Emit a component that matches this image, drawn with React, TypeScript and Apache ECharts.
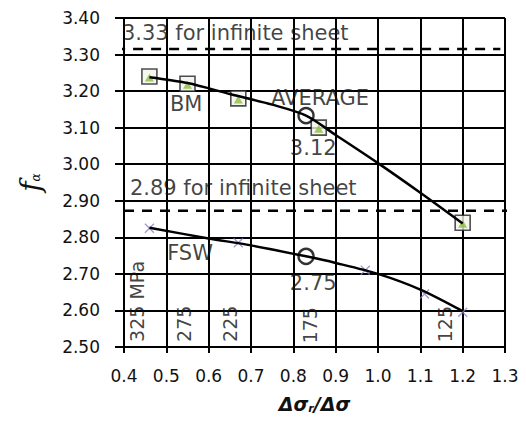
import React, { useEffect, useRef } from "react";
import * as echarts from "echarts";

// Base metal (BM) measured points
const bmX = [0.46, 0.55, 0.67, 0.86, 1.2];
const bmY = [3.24, 3.22, 3.18, 3.10, 2.84];
// FSW measured points
const fswX = [0.46, 0.67, 0.97, 1.11, 1.2];
const fswY = [2.825, 2.785, 2.71, 2.645, 2.595];
// Average points (open circles)
const avgX = [0.83, 0.83];
const avgY = [3.133, 2.748];
// Trend curves
const bmTrendX = [0.46, 0.55, 0.65, 0.75, 0.83, 0.9, 1.0, 1.1, 1.2];
const bmTrendY = [3.238, 3.222, 3.192, 3.163, 3.133, 3.08, 3.003, 2.922, 2.838];
const fswTrendX = [0.46, 0.6, 0.7, 0.83, 0.9, 1.0, 1.1, 1.2];
const fswTrendY = [2.826, 2.797, 2.778, 2.748, 2.73, 2.7, 2.657, 2.598];
// Infinite sheet reference levels (drawn position)
const upperRefX = [0.379, 1.289];
const upperRefY = 3.315;
const lowerRefX = [0.4, 1.317];
const lowerRefY = 2.873;
// Annotations
const noteText = ["3.33 for infinite sheet", "BM", "AVERAGE", "3.12", "2.89 for infinite sheet", "FSW", "2.75"];
const noteX = [0.395, 0.547, 0.863, 0.847, 0.414, 0.556, 0.847];
const noteY = [3.359, 3.165, 3.181, 3.044, 2.935, 2.757, 2.675];
const noteAlign = ["left", "center", "center", "center", "left", "center", "center"];
// Stress range labels (rotated)
const stressText = ["325 MPa", "275", "225", "175", "125"];
const stressX = [0.431, 0.542, 0.651, 0.84, 1.159];
const stressY = [2.514, 2.514, 2.514, 2.51, 2.513];
// Axis settings
const xMin = 0.4, xMax = 1.3, xStep = 0.1;
const yMin = 2.5, yMax = 3.4, yStep = 0.1;

const FONT = "DejaVu Sans";
const INK = "#111";
const GRID = "#000";

export default function App() {
  const ref = useRef<HTMLDivElement>(null);
  useEffect(() => {
    if (!ref.current) return;
    const chart = echarts.init(ref.current, null, { renderer: "svg" });
    const zip = (xs: number[], ys: number[]) => xs.map((x, i) => [x, ys[i]]);
    const labelSeriesData = noteText.map((t, i) => ({
      value: [noteX[i], noteY[i]],
      name: t,
      label: { align: noteAlign[i] },
    }));
    const stressData = stressText.map((t, i) => ({
      value: [stressX[i], stressY[i]],
      name: t,
    }));
    chart.setOption({
      animation: false,
      grid: { left: 124, right: 21, top: 18, bottom: 74, outerBoundsMode: "none", containLabel: false },
      xAxis: {
        type: "value",
        min: xMin,
        max: xMax,
        interval: xStep,
        name: "{a|Δσ}{s|r}{a|/Δσ}",
        nameLocation: "middle",
        nameGap: 47,
        nameTextStyle: {
          lineHeight: 20,
          rich: {
            a: { fontFamily: "DejaVu Sans", fontStyle: "italic", fontWeight: "bold", fontSize: 19, lineHeight: 20, color: INK },
            s: { fontFamily: "DejaVu Sans", fontStyle: "italic", fontWeight: "bold", fontSize: 11, lineHeight: 12, color: INK, padding: [8, 0, 0, 0] },
          },
        },
        axisLine: { show: true, lineStyle: { color: GRID, width: 2 } },
        axisTick: { show: true, length: 6, lineStyle: { color: GRID, width: 2 } },
        splitLine: { show: true, lineStyle: { color: GRID, width: 2 } },
        axisLabel: {
          fontFamily: FONT,
          fontSize: 17,
          color: INK,
          margin: 20,
          formatter: (v: number) => v.toFixed(1),
        },
      },
      yAxis: {
        type: "value",
        min: yMin,
        max: yMax,
        interval: yStep,
        name: "{f|f}{s|α}",
        nameLocation: "middle",
        nameRotate: 90,
        nameGap: 80,
        nameTextStyle: {
          rich: {
            f: { fontFamily: "DejaVu Serif", fontStyle: "italic", fontSize: 28, color: INK },
            s: { fontFamily: "DejaVu Serif", fontStyle: "italic", fontSize: 12, color: INK, padding: [12, 0, 0, 0] },
          },
        },
        axisLine: { show: true, lineStyle: { color: GRID, width: 2 } },
        axisTick: { show: true, length: 9, lineStyle: { color: GRID, width: 2 } },
        splitLine: { show: true, lineStyle: { color: GRID, width: 2 } },
        axisLabel: {
          fontFamily: FONT,
          fontSize: 17,
          color: INK,
          margin: 24,
          formatter: (v: number) => v.toFixed(2),
        },
      },
      series: [
        {
          type: "line",
          data: zip(upperRefX, upperRefX.map(() => upperRefY)),
          symbol: "none",
          clip: false,
          lineStyle: { color: "#000", width: 2.5, type: [10, 8] },
          z: 3,
        },
        {
          type: "line",
          data: zip(lowerRefX, lowerRefX.map(() => lowerRefY)),
          symbol: "none",
          clip: false,
          lineStyle: { color: "#000", width: 2.5, type: [10, 8] },
          z: 3,
        },
        {
          type: "scatter",
          data: zip(bmX, bmY),
          symbol: "rect",
          symbolSize: 15,
          itemStyle: { color: "#f3f3ee", borderColor: "#222", borderWidth: 1.6 },
          z: 4,
        },
        {
          type: "scatter",
          data: zip(bmX, bmY),
          symbol: "triangle",
          symbolSize: [9, 8],
          symbolOffset: [0, 1],
          itemStyle: { color: "#8dbf3f" },
          z: 5,
        },
        {
          type: "line",
          data: zip(bmTrendX, bmTrendY),
          symbol: "none",
          smooth: 0.3,
          lineStyle: { color: "#000", width: 2.5 },
          z: 6,
        },
        {
          type: "scatter",
          data: zip(fswX, fswY),
          symbol: "path://M0 0L10 10M10 0L0 10",
          symbolSize: 9,
          itemStyle: { color: "none", borderColor: "#8b7ccc", borderWidth: 1.3 },
          z: 5,
        },
        {
          type: "line",
          data: zip(fswTrendX, fswTrendY),
          symbol: "none",
          smooth: 0.3,
          lineStyle: { color: "#000", width: 2.5 },
          z: 6,
        },
        {
          type: "scatter",
          data: zip(avgX, avgY),
          symbol: "circle",
          symbolSize: 15,
          itemStyle: { color: "rgba(0,0,0,0)", borderColor: "#000", borderWidth: 2.4 },
          z: 7,
        },
        {
          type: "scatter",
          data: labelSeriesData,
          symbolSize: 0,
          silent: true,
          clip: false,
          z: 8,
          label: {
            show: true,
            position: "inside",
            formatter: (p: any) => p.name,
            fontFamily: FONT,
            fontSize: 21,
            color: INK,
            verticalAlign: "middle",
          },
        },
        {
          type: "scatter",
          data: stressData,
          symbolSize: 0,
          silent: true,
          clip: false,
          z: 8,
          label: {
            show: true,
            position: "inside",
            formatter: (p: any) => p.name,
            fontFamily: FONT,
            fontSize: 19,
            color: INK,
            rotate: 90,
            align: "left",
            verticalAlign: "middle",
          },
        },
      ],
    });
    return () => chart.dispose();
  }, []);
  return (
    <div
      ref={ref}
      style={{ position: "absolute", left: 0, top: 0, width: 526, height: 421 }}
    />
  );
}
